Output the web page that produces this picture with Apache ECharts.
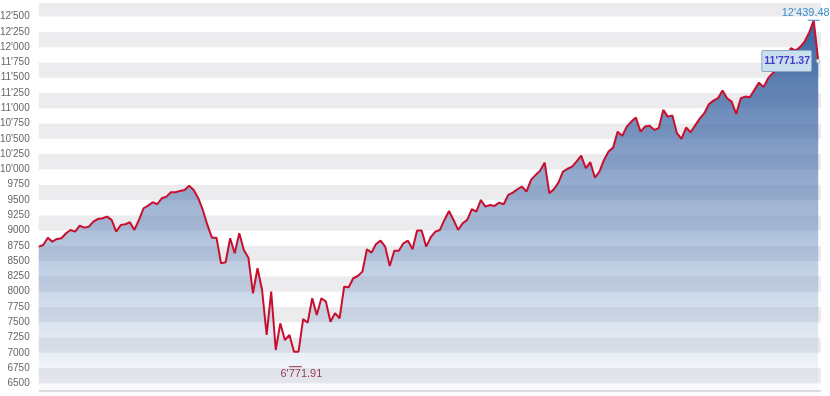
<!DOCTYPE html>
<html>
<head>
<meta charset="utf-8">
<script src="https://cdn.jsdelivr.net/npm/echarts@6/dist/echarts.min.js"></script>
<style>
html,body{margin:0;padding:0;background:#fff;}
#chart{width:830px;height:396px;}
</style>
</head>
<body>
<div id="chart"></div>
<script>
// Closing values, oldest first
const closes = [
  8736, 8763, 8883, 8818, 8862, 8873, 8955, 9009, 8982, 9080, 9047, 9063, 9145, 9189, 9200, 9227, 9173, 8982, 9091, 9102, 9135, 9009, 9173, 9364, 9407, 9463, 9430, 9528, 9554, 9626,
  9626, 9648, 9664, 9734, 9664, 9528, 9336, 9091, 8883, 8883, 8464, 8480, 8873, 8628, 8955, 8682, 8556, 7973, 8382, 8027, 7291, 7999, 7045, 7482, 7209, 7291, 7017, 7017,
  7550, 7492, 7891, 7618, 7891, 7836, 7508, 7646, 7564, 8081, 8071, 8219, 8256, 8327, 8693, 8638, 8780, 8834, 8736, 8420, 8670, 8670, 8791, 8834, 8693, 9000, 9000, 8736, 8890, 8982,
  9009, 9173, 9320, 9173, 9009, 9119, 9173, 9348, 9309, 9500, 9391, 9418, 9402, 9456, 9430, 9582, 9620, 9675, 9718, 9636, 9828, 9909, 9980, 10111, 9610, 9675, 9783, 9963, 10010,
  10045, 10130, 10225, 10019, 10117, 9866, 9963, 10155, 10291, 10356, 10618, 10548, 10700, 10782, 10847, 10618, 10700, 10716, 10646, 10674, 10973, 10863, 10880, 10592, 10499, 10684, 10608,
  10720, 10830,
  10919, 11066, 11125, 11164, 11289, 11164, 11109, 10908, 11164, 11191, 11181, 11301, 11420, 11345, 11492, 11574, 11639, 11737, 11846, 11983, 11944, 12000, 12091, 12238, 12439.48, 11771.37
];
const periodHigh = 12439.48;
const periodLow = 6771.91;
const yTicks = { min: 6250, max: 12722, step: 250, firstLabel: 6500, lastLabel: 12500 };
const baseLineValue = 6374;

function fmt(v, dec) {
  const s = dec ? v.toFixed(dec) : String(Math.round(v));
  const parts = s.split('.');
  let ip = parts[0];
  if (Math.abs(v) >= 10000 || dec) {
    ip = ip.replace(/\B(?=(\d{3})+(?!\d))/g, "'");
  }
  return parts.length > 1 ? ip + '.' + parts[1] : ip;
}

const seriesData = closes.map((v, i) => [i, v]);
const lastIdx = closes.length - 1;
let hiIdx = 0, loIdx = 0;
closes.forEach((v, i) => { if (v > closes[hiIdx]) hiIdx = i; if (v < closes[loIdx]) loIdx = i; });

const chart = echarts.init(document.getElementById('chart'), null, { renderer: 'canvas' });
chart.setOption({
  animation: false,
  grid: { left: 38.7, right: 9, top: 3, bottom: -2.6, containLabel: false, outerBoundsMode: 'none' },
  xAxis: {
    type: 'value', min: 0, max: lastIdx + 0.6,
    axisLine: { show: false }, axisTick: { show: false }, axisLabel: { show: false },
    splitLine: { show: false }
  },
  yAxis: {
    type: 'value', min: yTicks.min, max: yTicks.max, interval: yTicks.step,
    axisLine: { show: false }, axisTick: { show: false },
    splitLine: { show: false },
    splitArea: { show: true, areaStyle: { color: ['#ffffff', '#ececef'] } },
    axisLabel: {
      margin: 9, color: '#666', fontSize: 10, fontFamily: 'Liberation Sans, Arial, sans-serif',
      formatter: v => (v < yTicks.firstLabel || v > yTicks.lastLabel) ? '' : fmt(v)
    }
  },
  series: [{
    type: 'line',
    data: seriesData,
    symbol: 'none',
    lineStyle: { color: '#c8102e', width: 2 },
    areaStyle: {
      opacity: 1,
      color: new echarts.graphic.LinearGradient(0, 0, 0, 1, [
        { offset: 0, color: 'rgba(45,90,155,0.95)' },
        { offset: 0.45, color: 'rgba(70,110,170,0.55)' },
        { offset: 0.75, color: 'rgba(90,130,185,0.28)' },
        { offset: 1, color: 'rgba(120,150,200,0.02)' }
      ])
    },
    markLine: {
      silent: true, symbol: 'none', animation: false,
      label: { show: false },
      lineStyle: { color: '#dcdcdc', width: 2, type: 'solid' },
      data: [{ yAxis: baseLineValue }]
    },
    markPoint: {
      silent: true, animation: false,
      data: [
        {
          coord: [loIdx + 0.3, periodLow], symbol: 'rect', symbolSize: [13, 1],
          itemStyle: { color: '#8a3048' },
          label: { show: true, position: 'bottom', distance: 1, offset: [6, 0], formatter: fmt(periodLow, 2),
                   color: '#9a3a52', fontSize: 11, fontFamily: 'Liberation Sans, Arial, sans-serif' }
        },
        {
          coord: [hiIdx, periodHigh], symbol: 'rect', symbolSize: [12, 1],
          itemStyle: { color: '#3a8ccc' },
          label: { show: true, position: 'top', distance: 1, offset: [-8, 0], formatter: fmt(periodHigh, 2),
                   color: '#3a8ccc', fontSize: 11, fontFamily: 'Liberation Sans, Arial, sans-serif' }
        },
        {
          coord: [lastIdx, closes[lastIdx]], symbol: 'circle', symbolSize: 4,
          itemStyle: { color: '#e8e8e8', borderColor: '#999', borderWidth: 0.5 },
          label: { show: true, position: 'left', distance: 5, formatter: fmt(closes[lastIdx], 2),
                   color: '#4a3cc8', fontSize: 10.5, fontWeight: 'bold', fontFamily: 'Liberation Sans, Arial, sans-serif',
                   backgroundColor: '#c9dfee', borderColor: '#8aaac4', borderWidth: 1, borderRadius: 1,
                   padding: [5, 1, 4, 2] }
        }
      ]
    }
  }]
});
</script>
</body>
</html>
